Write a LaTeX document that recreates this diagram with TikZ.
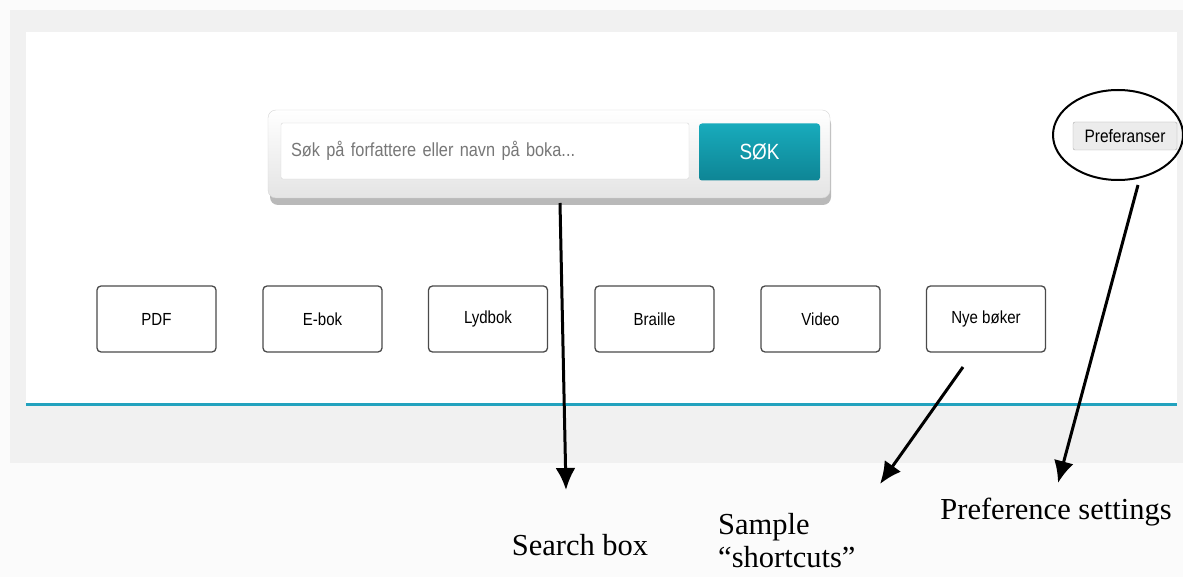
\documentclass[tikz,border=0pt]{standalone}
\usepackage{fontspec}
\setmainfont{Liberation Serif}
\setsansfont{Liberation Sans}
\newfontfamily\condsans[FakeStretch=0.86]{Liberation Sans}
\usetikzlibrary{arrows.meta,shapes.geometric}
\definecolor{pagebg}{HTML}{FBFBFB}
\definecolor{panelgray}{HTML}{F1F1F1}
\definecolor{tealline}{HTML}{22A2BE}
\definecolor{tealtop}{HTML}{18ABBC}
\definecolor{tealbot}{HTML}{0E8595}
\definecolor{boxedge}{HTML}{4A4A4A}
\definecolor{hintgray}{HTML}{777777}
\definecolor{fieldedge}{HTML}{D6D6D6}
\definecolor{barbot}{HTML}{E4E4E4}
\definecolor{prefedge}{HTML}{ABABAB}
\definecolor{preffill}{HTML}{ECECEC}

\begin{document}
\begin{tikzpicture}[x=1pt,y=-1pt,
  choice/.style={draw=boxedge, line width=1.3pt, rounded corners=4pt, fill=white,
    minimum width=119pt, minimum height=66pt, font=\condsans\fontsize{17.5}{20}\selectfont},
  callout/.style={font=\fontsize{30.5}{33}\selectfont},
  pointer/.style={draw, line width=3pt, -{Latex[length=22pt,width=20pt]}}]
\useasboundingbox (0,0) rectangle (1183,577);
\fill[pagebg] (0,0) rectangle (1183,577);

% page frame
\fill[panelgray] (10,10) rectangle (1183,463);
\fill[white] (26,32) rectangle (1177,404);
\draw[tealline, line width=3pt] (26,404) -- (1177,404);

% search bar
\fill[gray!55, rounded corners=8pt] (270,116) rectangle (831,205);
\node[draw=fieldedge, rounded corners=8pt, top color=white, bottom color=barbot,
  minimum width=562pt, minimum height=88pt] (searchbar) at (549,154) {};
\node[draw=fieldedge, fill=white, rounded corners=2pt, inner xsep=10pt, text width=388pt,
  align=left, minimum height=56pt, text=hintgray, font=\condsans\fontsize{19}{22}\selectfont]
  (field) at (485,151) {Søk på forfattere eller navn på boka...};
\node[top color=tealtop, bottom color=tealbot, rounded corners=3pt, minimum width=121pt,
  minimum height=57pt, text=white, font=\condsans\fontsize{22}{24}\selectfont]
  (sok) at (759.5,152) {SØK};

% shortcut buttons
\node[choice] (pdf) at (156.5,319) {PDF};
\node[choice] (ebok) at (322.5,319) {E-bok};
\node[choice] (lydbok) at (488,319) {Lydbok};
\node[choice] (braille) at (654.5,319) {Braille};
\node[choice] (video) at (820.5,319) {Video};
\node[choice] (nye) at (986,319) {Nye bøker};

% preferences
\node[draw=prefedge, fill=preffill, rounded corners=2pt, minimum width=104pt, minimum height=28pt,
  font=\condsans\fontsize{18}{20}\selectfont] (pref) at (1125,136) {Preferanser};
\node[ellipse, draw, line width=2pt, minimum width=130pt, minimum height=90pt] (ring) at (1118,135) {};

% labels
\node[callout] (searchlbl) at (580,545) {Search box};
\node[callout, align=left, inner sep=0pt, anchor=west] (samplelbl) at (718,541) {Sample\\“shortcuts”};
\node[callout] (preflbl) at (1056,512) {Preference settings};

\coordinate (searchtail) at (560,203);
\coordinate (searchtip) at (566,490);
\coordinate (nyetail) at (963,367);
\coordinate (nyetip) at (880,484);
\coordinate (preftail) at (1138,185);
\coordinate (preftip) at (1058,483);

\path[pointer] (searchtail) -- (searchtip);
\path[pointer] (nyetail) -- (nyetip);
\path[pointer] (preftail) -- (preftip);
\end{tikzpicture}
\end{document}
